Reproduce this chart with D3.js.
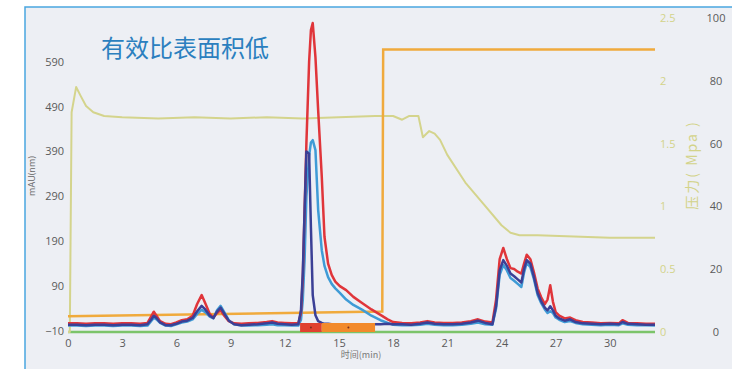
<!DOCTYPE html>
<html>
<head>
<meta charset="utf-8">
<script src="https://cdn.jsdelivr.net/npm/d3@7"></script>
<style>
  body { margin: 0; background: #fff; }
  svg { display: block; font-family: "Open Sans", "Noto Sans CJK SC", sans-serif; }
</style>
</head>
<body>
<svg id="chart" width="732" height="369"></svg>
<script>
// UV traces (mAU), one shared time axis (min)
const times = [
  0, 0.5, 1, 1.5, 2, 2.5, 3, 3.5, 4, 4.4,
  4.6, 4.75, 4.9, 5.1, 5.4, 5.7, 6.0, 6.3, 6.6, 6.9,
  7.15, 7.4, 7.6, 7.85, 8.05, 8.25, 8.45, 8.65, 8.9, 9.2,
  9.6, 10, 10.5, 11, 11.3, 11.6, 12, 12.4, 12.75,
  12.9, 13.0, 13.1, 13.2, 13.35, 13.45, 13.55, 13.7, 13.85, 14.05,
  14.2, 14.4, 14.6, 14.8, 15.05, 15.4, 15.8, 16.3, 16.8, 17.3,
  17.7, 18.0, 18.5, 19.0, 19.5, 19.9, 20.3, 20.8, 21.3, 21.8,
  22.3, 22.7, 23.1, 23.5, 23.7, 23.9, 24.1, 24.3, 24.5, 24.7,
  24.9, 25.1, 25.25, 25.4, 25.6, 25.8, 26.0, 26.2, 26.4, 26.55,
  26.7, 26.85, 27.0, 27.2, 27.5, 27.8, 28.1, 28.5, 29.0, 29.5,
  30.0, 30.5, 30.7, 31.0, 31.5, 32.0, 32.5
];
const redMAU = [
  7, 7, 6, 7, 7, 6, 7, 7, 6, 8,
  22, 33, 24, 12, 6, 5, 9, 14, 16, 24,
  50, 70, 52, 28, 20, 30, 36, 24, 12, 7,
  6, 7, 8, 10, 12, 9, 8, 7, 7,
  30, 110, 260, 409, 590, 660, 676, 600, 482, 334,
  200, 140, 115, 100, 90, 81, 66, 52, 38, 26,
  16, 10, 8, 7, 9, 12, 9, 8, 8, 9,
  12, 16, 11, 9, 60, 150, 175, 150, 130, 128,
  122, 118, 140, 160, 150, 120, 85, 65, 50, 60,
  92, 55, 32, 24, 18, 20, 14, 10, 9, 7,
  8, 7, 14, 8, 7, 6, 6
];
const blueMAU = [
  2, 2, 1, 2, 2, 1, 2, 2, 1, 2,
  12, 19, 16, 8, 2, 1, 5, 9, 11, 16,
  28, 37, 32, 22, 18, 36, 46, 32, 14, 5,
  2, 2, 3, 4, 5, 3, 3, 2, 2,
  15, 60, 150, 290, 380, 410, 415, 393, 260, 170,
  135, 110, 95, 85, 75, 60, 48, 37, 24, 14,
  8, 4, 3, 3, 4, 6, 4, 3, 3, 4,
  6, 9, 5, 4, 40, 115, 137, 125, 108, 102,
  95, 88, 120, 142, 132, 105, 70, 52, 38, 30,
  34, 30, 20, 15, 10, 12, 8, 5, 4, 3,
  4, 3, 7, 4, 3, 3, 2
];
const navyMAU = [
  4, 4, 3, 4, 4, 3, 4, 4, 3, 5,
  15, 24, 19, 9, 3, 3, 6, 11, 13, 19,
  34, 46, 38, 24, 19, 33, 42, 29, 13, 5,
  3, 4, 5, 7, 9, 6, 5, 4, 5,
  37, 120, 260, 390, 385, 220, 70, 25, 12, 8,
  6, 6, 5, 5, 5, 5, 5, 5, 5, 5,
  6, 5, 5, 4, 6, 9, 6, 5, 5, 6,
  9, 13, 8, 5, 45, 125, 148, 135, 118, 112,
  105, 98, 128, 148, 140, 110, 75, 56, 42, 36,
  45, 36, 24, 18, 13, 16, 10, 7, 6, 5,
  6, 5, 10, 6, 5, 4, 4
];

// pressure (MPa)
const pressTime = [0, 0.1, 0.2, 0.45, 0.7, 1.0, 1.4, 2.0, 3, 5, 7, 9, 11, 13, 15, 17, 18, 18.5, 18.9, 19.4,
  19.65, 20.0, 20.3, 20.6, 21, 22, 23, 24, 24.5, 25, 26, 28, 30, 32.5];
const pressMPa = [0, 0, 1.75, 1.95, 1.88, 1.80, 1.75, 1.72, 1.71, 1.70, 1.71, 1.70, 1.71, 1.70, 1.71, 1.72, 1.72, 1.69, 1.72, 1.72,
  1.55, 1.60, 1.58, 1.53, 1.41, 1.19, 1.02, 0.85, 0.79, 0.77, 0.77, 0.76, 0.75, 0.75];

// gradient (%B) and second channel (%)
const gradTime = [0, 17.4, 17.45, 32.5];
const gradPct = [5, 6.5, 90, 90];
const baseTime = [0, 32.5];
const basePct = [0, 0];

// collected fractions (min)
const fracStart = [12.85, 14.05];
const fracEnd = [14.05, 17.0];
const fracColor = ["#e0412f", "#f28a2c"];

const uvTicks = [-10, 90, 190, 290, 390, 490, 590];
const timeTicks = [0, 3, 6, 9, 12, 15, 18, 21, 24, 27, 30];
const pressTicks = [0, 0.5, 1, 1.5, 2, 2.5];
const pctTicks = [0, 20, 40, 60, 80, 100];

const svg = d3.select("#chart");

// panel
svg.append("rect")
  .attr("x", 25).attr("y", 7)
  .attr("width", 730).attr("height", 380)
  .attr("fill", "#edeff4")
  .attr("stroke", "#4aa6df")
  .attr("stroke-width", 1.5);

const x = d3.scaleLinear().domain([0, 32.5]).range([68, 655]);
const yUV = d3.scaleLinear().domain([-10, 590]).range([331, 61.6]);
const yPct = d3.scaleLinear().domain([0, 100]).range([332, 18]);
const yP = d3.scaleLinear().domain([0, 2.5]).range([332, 18]);

// axes (labels only)
const gLeft = svg.append("g")
  .attr("transform", "translate(64,0)")
  .call(d3.axisLeft(yUV).tickValues(uvTicks).tickSize(0).tickPadding(0));
const gBottom = svg.append("g")
  .attr("transform", "translate(0,336)")
  .call(d3.axisBottom(x).tickValues(timeTicks).tickSize(0).tickPadding(3));
const gP = svg.append("g")
  .attr("transform", "translate(660,0)")
  .call(d3.axisRight(yP).tickValues(pressTicks).tickSize(0).tickPadding(0)
    .tickFormat(function(d) { return String(d); }));
const gPct = svg.append("g")
  .attr("transform", "translate(716,0)")
  .call(d3.axisRight(yPct).tickValues(pctTicks).tickSize(0).tickPadding(0));

[gLeft, gBottom, gP, gPct].forEach(function(g) {
  g.select(".domain").remove();
  g.selectAll("text").attr("font-size", 11).attr("font-family", "Open Sans, sans-serif");
});
gLeft.selectAll("text").attr("fill", "#5a5a5a");
gBottom.selectAll("text").attr("fill", "#5a5a5a");
gP.selectAll("text").attr("fill", "#d3d38a");
gPct.selectAll("text").attr("fill", "#5a5a5a").attr("text-anchor", "middle");

// titles
svg.append("text")
  .attr("x", 101).attr("y", 57)
  .attr("font-size", 24)
  .attr("font-family", "Noto Sans CJK SC, sans-serif")
  .attr("fill", "#2b7fbf")
  .text("有效比表面积低");

svg.append("text")
  .attr("transform", "translate(35,176) rotate(-90)")
  .attr("text-anchor", "middle")
  .attr("font-size", 9)
  .attr("fill", "#666")
  .text("mAU(nm)");

svg.append("text")
  .attr("x", 361).attr("y", 358)
  .attr("text-anchor", "middle")
  .attr("font-size", 9)
  .attr("font-family", "Noto Sans CJK SC, sans-serif")
  .attr("fill", "#777")
  .text("时间(min)");

svg.append("text")
  .attr("transform", "translate(697,165) rotate(-90)")
  .attr("text-anchor", "middle")
  .attr("font-size", 14)
  .attr("letter-spacing", 2)
  .attr("font-family", "Noto Sans CJK SC, sans-serif")
  .attr("fill", "#d3d38a")
  .text("压力( Mpa )");

// lines
function series(xs, ys) {
  return xs.map(function(t, i) { return [t, ys[i]]; });
}
const lineUV = d3.line().x(function(d) { return x(d[0]); }).y(function(d) { return yUV(d[1]); });
const linePct = d3.line().x(function(d) { return x(d[0]); }).y(function(d) { return yPct(d[1]); });
const lineP = d3.line().x(function(d) { return x(d[0]); }).y(function(d) { return yP(d[1]); });

svg.append("path")
  .datum(series(baseTime, basePct))
  .attr("d", linePct)
  .attr("fill", "none").attr("stroke", "#7cc46a").attr("stroke-width", 2.5);

svg.append("path")
  .datum(series(pressTime, pressMPa))
  .attr("d", lineP)
  .attr("fill", "none").attr("stroke", "#d4d48c").attr("stroke-width", 2)
  .attr("stroke-linejoin", "round");

svg.append("path")
  .datum(series(gradTime, gradPct))
  .attr("d", linePct)
  .attr("fill", "none").attr("stroke", "#f0aa3c").attr("stroke-width", 2.5);

[[blueMAU, "#3f9bd6"], [redMAU, "#e0353a"], [navyMAU, "#3b4096"]].forEach(function(s) {
  svg.append("path")
    .datum(series(times, s[0]))
    .attr("d", lineUV)
    .attr("fill", "none")
    .attr("stroke", s[1])
    .attr("stroke-width", 2.5)
    .attr("stroke-linejoin", "round");
});

// fraction bars
svg.selectAll(".frac")
  .data(fracStart)
  .enter().append("rect")
  .attr("class", "frac")
  .attr("x", function(d) { return x(d); })
  .attr("y", 323)
  .attr("width", function(d, i) { return x(fracEnd[i]) - x(d); })
  .attr("height", 9)
  .attr("fill", function(d, i) { return fracColor[i]; });

svg.selectAll(".fracdot")
  .data(fracStart)
  .enter().append("circle")
  .attr("class", "fracdot")
  .attr("cx", function(d, i) { return (x(d) + x(fracEnd[i])) / 2; })
  .attr("cy", 327.5)
  .attr("r", 1)
  .attr("fill", "#7a3020");
</script>
</body>
</html>
